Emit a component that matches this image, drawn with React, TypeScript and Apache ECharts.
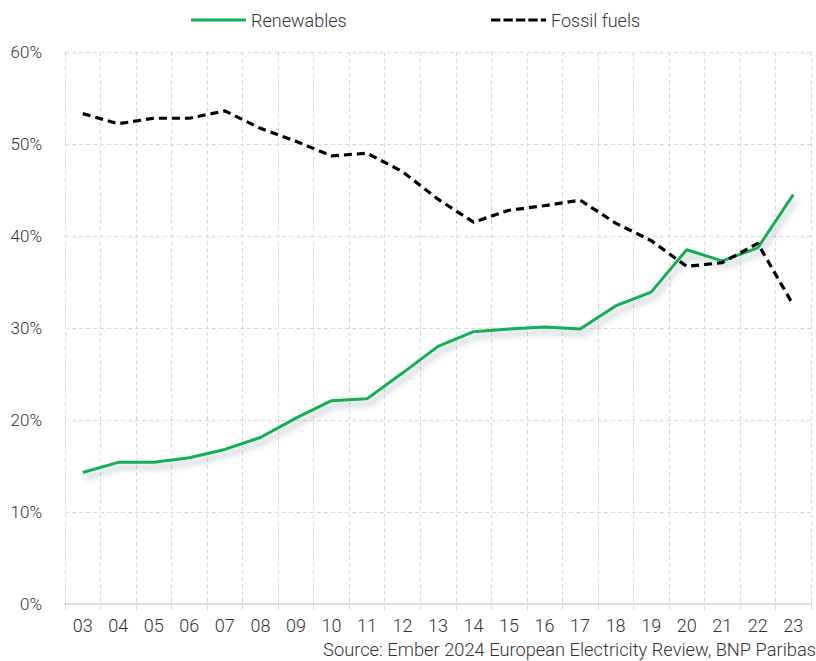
import React, { useEffect, useRef } from "react";
import * as echarts from "echarts";

const years = ["03","04","05","06","07","08","09","10","11","12","13","14","15","16","17","18","19","20","21","22","23"];
const renewables = [14.3,15.4,15.4,15.9,16.8,18.1,20.2,22.1,22.3,25.1,28.0,29.6,29.9,30.1,29.9,32.4,33.9,38.5,37.3,38.7,44.5];
const fossil = [53.3,52.2,52.8,52.8,53.6,51.7,50.3,48.7,49.0,47.0,44.0,41.5,42.8,43.3,43.9,41.4,39.5,36.7,37.1,39.2,32.5];
const yTicks = [0, 10, 20, 30, 40, 50, 60];
const sourceText = "Source: Ember 2024 European Electricity Review, BNP Paribas";

const FONT = "Roboto, 'Noto Sans', sans-serif";

export default function App() {
  const ref = useRef<HTMLDivElement>(null);
  useEffect(() => {
    if (!ref.current) return;
    const chart = echarts.init(ref.current, null, { renderer: "svg" });
    chart.setOption({
      animation: false,
      backgroundColor: "#ffffff",
      textStyle: { fontFamily: FONT },
      legend: [
        {
          data: ["Renewables"],
          left: 186,
          top: 6,
          itemWidth: 55,
          itemHeight: 14,
          itemGap: 5,
          icon: "path://M0,5.5 L55,5.5 L55,8.5 L0,8.5 Z",
          itemStyle: { color: "#12ae52" },
          textStyle: { fontSize: 18, color: "#333", fontFamily: FONT, fontWeight: 300 },
        },
        {
          data: ["Fossil fuels"],
          left: 486,
          top: 6,
          itemWidth: 55,
          itemHeight: 14,
          icon: "path://M0,5.5h9v3h-9z M12,5.5h9v3h-9z M24,5.5h9v3h-9z M36,5.5h9v3h-9z M48,5.5h5v3h-5z",
          itemStyle: { color: "#000000" },
          textStyle: { fontSize: 18, color: "#333", fontFamily: FONT, fontWeight: 300 },
        },
      ],
      grid: { left: 65, right: 5, top: 52, bottom: 57, containLabel: false },
      xAxis: {
        type: "category",
        data: years,
        boundaryGap: true,
        axisLine: { show: true, lineStyle: { color: "#d9d9d9", width: 1.5 } },
        axisTick: { show: true, length: 6, lineStyle: { color: "#d9d9d9" } },
        axisLabel: { color: "#333", fontSize: 18, margin: 12, fontFamily: FONT, fontWeight: 300 },
        splitLine: { show: true, lineStyle: { color: "#d9d9d9", type: [4, 3], width: 1 } },
      },
      yAxis: {
        type: "value",
        min: yTicks[0],
        max: yTicks[yTicks.length - 1],
        interval: 10,
        axisLine: { show: false },
        axisTick: { show: false },
        axisLabel: { formatter: "{value}%", color: "#333", fontSize: 17, margin: 23, fontFamily: FONT, fontWeight: 300 },
        splitLine: { show: true, lineStyle: { color: "#d9d9d9", type: [4, 3], width: 1 } },
      },
      series: [
        {
          name: "Renewables",
          type: "line",
          data: renewables,
          symbol: "none",
          lineStyle: {
            color: "#12ae52",
            width: 3,
            shadowColor: "rgba(70,100,120,0.4)",
            shadowBlur: 6,
            shadowOffsetX: 3,
            shadowOffsetY: 5,
          },
          itemStyle: { color: "#12ae52" },
          z: 3,
        },
        {
          name: "Fossil fuels",
          type: "line",
          data: fossil,
          symbol: "none",
          lineStyle: { color: "#000000", width: 3.2, type: [8, 5] },
          itemStyle: { color: "#000000" },
          z: 4,
        },
      ],
      graphic: [
        {
          type: "text",
          right: 0,
          top: 640,
          style: { text: sourceText, fontSize: 18.3, fill: "#333", fontFamily: FONT, fontWeight: 300 },
        },
      ],
    });
    return () => chart.dispose();
  }, []);
  return <div ref={ref} style={{ width: 816, height: 661, position: "absolute", left: 0, top: 0 }} />;
}
